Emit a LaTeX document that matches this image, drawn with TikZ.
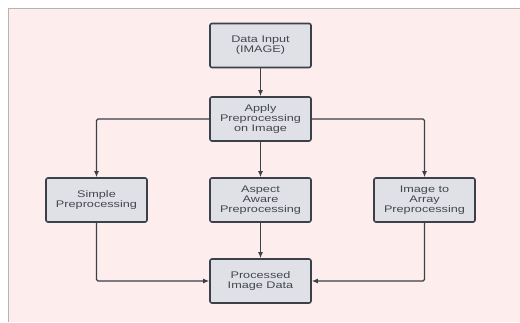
\documentclass[tikz,border=0pt]{standalone}
\usepackage{fontspec}
\setmainfont{Liberation Sans}[FakeStretch=1.32]
\usetikzlibrary{arrows.meta}
\definecolor{bgpink}{HTML}{FDEDED}
\definecolor{boxfill}{HTML}{DFE1E6}
\definecolor{boxline}{HTML}{3C4048}
\definecolor{txt}{HTML}{44474E}
\definecolor{frame}{HTML}{B4B4B8}
\begin{document}
\begin{tikzpicture}[x=1pt,y=-1pt,
  procbox/.style={draw=boxline,line width=1.6pt,fill=boxfill,rounded corners=2pt,
    minimum width=101pt,minimum height=44pt,inner sep=0pt,align=center,
    text=txt,font=\fontsize{9.6}{10}\selectfont},
  conn/.style={draw=boxline,line width=1.2pt,rounded corners=1.5pt,
    -{Latex[length=6pt,width=5pt]}}]
\useasboundingbox (0,0) rectangle (520,322);
\fill[white] (0,0) rectangle (520,322);
\fill[bgpink] (8,8) rectangle (520,322);
\draw[frame,line width=1pt] (8,322) -- (8,8) -- (520,8);
\node[procbox] (input) at (260.5,45.5) {Data Input\\(IMAGE)};
\node[procbox] (apply) at (260.5,119) {Apply\\Preprocessing\\on Image};
\node[procbox] (simple) at (96.5,200) {Simple\\Preprocessing};
\node[procbox] (aspect) at (260.5,200) {Aspect\\Aware\\Preprocessing};
\node[procbox] (array) at (424.5,200) {Image to\\Array\\Preprocessing};
\node[procbox] (out) at (260.5,281) {Processed\\Image Data};
\draw[conn] (input) -- (apply);
\draw[conn] (apply) -- (aspect);
\draw[conn] (aspect) -- (out);
\draw[conn] (apply.west) -| (simple.north);
\draw[conn] (apply.east) -| (array.north);
\draw[conn] (simple.south) |- (out.west);
\draw[conn] (array.south) |- (out.east);
\end{tikzpicture}
\end{document}
